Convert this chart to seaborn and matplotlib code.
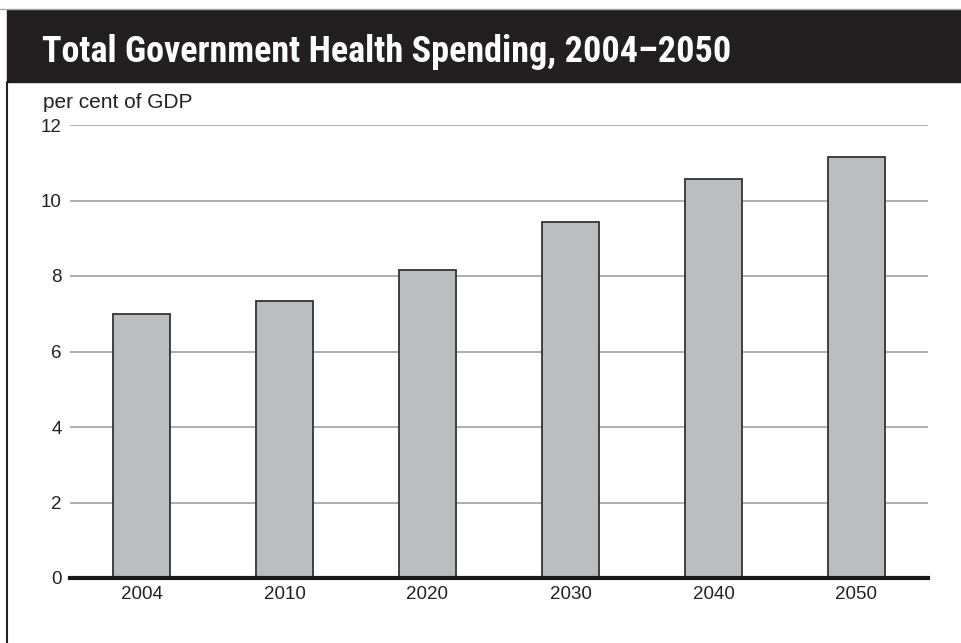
import matplotlib
matplotlib.use("Agg")
import matplotlib.pyplot as plt
import seaborn as sns
import pandas as pd
from matplotlib.patches import Rectangle
from matplotlib.lines import Line2D

years = ["2004", "2010", "2020", "2030", "2040", "2050"]
spending = [7.0, 7.33, 8.15, 9.42, 10.58, 11.14]
yticks = [0, 2, 4, 6, 8, 10, 12]

df = pd.DataFrame({"year": years, "spending": spending})

sns.set_theme(style="white")
plt.rcParams["font.family"] = ["Liberation Sans", "DejaVu Sans"]

fig = plt.figure(figsize=(9.62, 6.43), dpi=100)
ax = fig.add_axes([70 / 962, 65 / 643, 858 / 962, 453 / 643])

sns.barplot(data=df, x="year", y="spending", color="#bcbdc0", width=0.4,
            edgecolor="#333333", linewidth=1.3, saturation=1, ax=ax, zorder=3)

ax.set_ylim(0, 12)
ax.set_xlim(-0.5, 5.5)
ax.set_yticks(yticks)
ax.yaxis.grid(True, color="#a8a8a8", linewidth=1.3)
ax.set_axisbelow(True)
for s in ["top", "right", "left"]:
    ax.spines[s].set_visible(False)
ax.spines["bottom"].set_color("#1a1a1a")
ax.spines["bottom"].set_linewidth(3)
ax.spines["bottom"].set_zorder(5)
ax.tick_params(axis="y", length=0, pad=6, labelsize=13.5, labelcolor="#222222")
ax.tick_params(axis="x", length=0, pad=6, labelsize=13.5, labelcolor="#222222")
ax.set_xlabel("")
ax.set_ylabel("")

# header band and frame
fig.patches.append(Rectangle((7 / 962, 1 - 82 / 643), 1, 72 / 643,
                             transform=fig.transFigure, color="#231f20", zorder=0))
fig.lines.append(Line2D([0, 1], [1 - 9 / 643] * 2, transform=fig.transFigure,
                        color="#aaaaaa", linewidth=1))
fig.lines.append(Line2D([7.5 / 962] * 2, [0, 1 - 82 / 643], transform=fig.transFigure,
                        color="#222222", linewidth=1.5))

fig.text(42 / 962, 1 - 62 / 643, "Total Government Health Spending, 2004–2050",
         color="white", fontsize=26, fontweight="bold",
         family=["Roboto Condensed", "Liberation Sans Narrow", "DejaVu Sans"],
         va="baseline")
fig.text(43 / 962, 1 - 108 / 643, "per cent of GDP", fontsize=15,
         color="#222222", va="baseline")

plt.savefig("out.png", dpi=100)
